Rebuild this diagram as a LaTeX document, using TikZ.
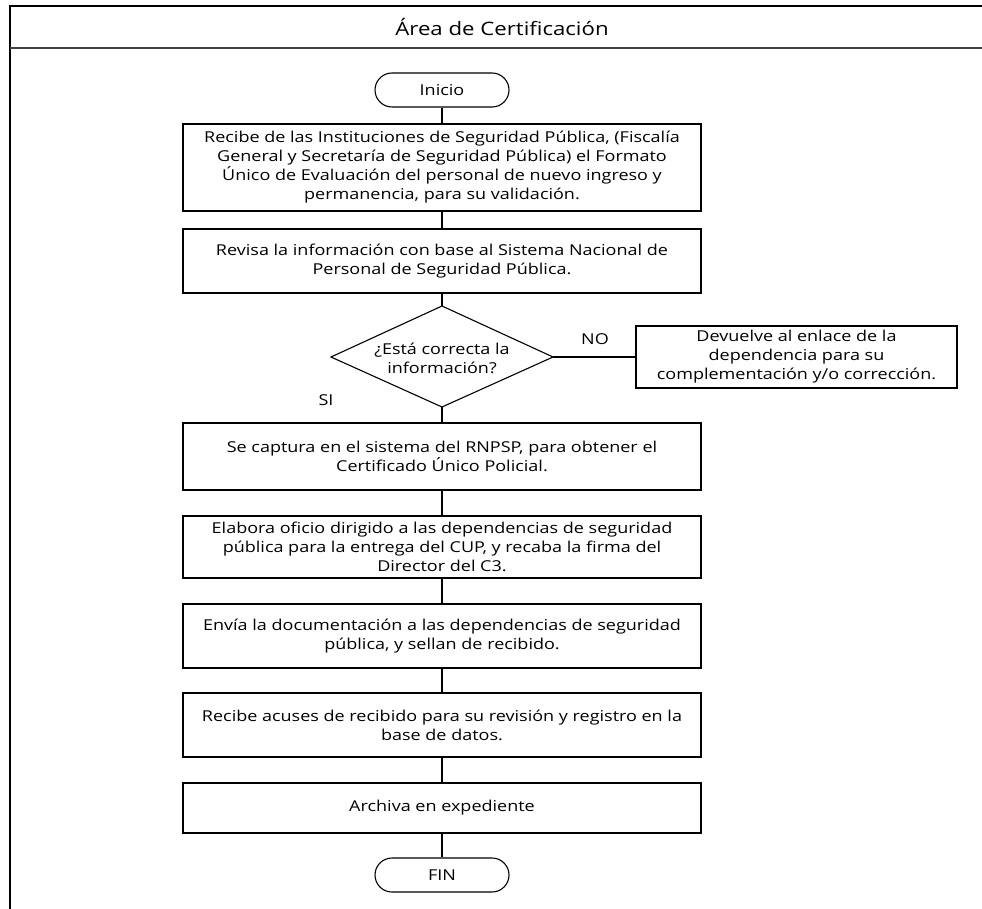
\documentclass[tikz,border=0pt]{standalone}
\usepackage{fontspec}
\setmainfont{Open Sans}[FakeStretch=1.2]
\begin{document}
\begin{tikzpicture}[x=1pt,y=-1pt,
  txt/.style={font=\fontsize{15}{19}\selectfont, align=center, inner sep=0pt},
  procbox/.style={txt, draw, line width=1.3pt, minimum width=518pt},
  pill/.style={txt, draw, line width=1.1pt, rounded corners=17pt, minimum width=134pt, minimum height=34pt},
  decline/.style={line width=1.1pt, line join=miter},
  conn/.style={line width=1.2pt},
  lbl/.style={font=\fontsize{15}{17}\selectfont, inner sep=0pt}]
\useasboundingbox (0,0) rectangle (982,909);
% frame
\coordinate (fr1) at (982,6);
\coordinate (fr2) at (10,6);
\coordinate (fr3) at (10,909);
\coordinate (tl1) at (10,48);
\coordinate (tl2) at (982,48);
\draw[line width=2pt] (fr1) -- (fr2) -- (fr3);
\draw[line width=2pt, black!75] (tl1) -- (tl2);
\node[font=\fontsize{18.5}{22}\selectfont, inner sep=0pt] (title) at (502,27) {Área de Certificación};

\node[pill] (inicio) at (442,90) {Inicio};
\node[procbox, minimum height=87pt] (b1) at (442,167.5) {Recibe de las Instituciones de Seguridad Pública, (Fiscalía\\General y Secretaría de Seguridad Pública) el Formato\\Único de Evaluación del personal de nuevo ingreso y\\permanencia, para su validación.};
\node[procbox, minimum height=64pt] (b2) at (442,261) {Revisa la información con base al Sistema Nacional de\\Personal de Seguridad Pública.};
% decision diamond
\coordinate (decN) at (442,306);
\coordinate (decE) at (553,357);
\coordinate (decS) at (442,407);
\coordinate (decW) at (331,357);
\draw[decline] (decN) -- (decE) -- (decS) -- (decW) -- cycle;
\node[txt] (dectxt) at (442,358) {¿Está correcta la\\información?};
\node[txt, draw, line width=1.3pt, minimum width=321pt, minimum height=62pt] (dev) at (796.5,357) {Devuelve al enlace de la\\dependencia para su\\complementación y/o corrección.};
\node[procbox, minimum height=67pt] (b3) at (442,456.5) {Se captura en el sistema del RNPSP, para obtener el\\Certificado Único Policial.};
\node[procbox, minimum height=62pt] (b4) at (442,547) {Elabora oficio dirigido a las dependencias de seguridad\\pública para la entrega del CUP, y recaba la firma del\\Director del C3.};
\node[procbox, minimum height=64pt] (b5) at (442,636) {Envía la documentación a las dependencias de seguridad\\pública, y sellan de recibido.};
\node[procbox, minimum height=64pt] (b6) at (442,725) {Recibe acuses de recibido para su revisión y registro en la\\base de datos.};
\node[procbox, minimum height=50pt] (b7) at (442,808) {Archiva en expediente};
\node[pill] (fin) at (442,875) {FIN};

\node[lbl] (no) at (595,339) {NO};
\node[lbl] (si) at (326,400) {SI};

\draw[conn] (inicio) -- (b1);
\draw[conn] (b1) -- (b2);
\draw[conn] (b2) -- (decN);
\draw[conn] (decE) -- (dev.west);
\draw[conn] (decS) -- (b3);
\draw[conn] (b3) -- (b4);
\draw[conn] (b4) -- (b5);
\draw[conn] (b5) -- (b6);
\draw[conn] (b6) -- (b7);
\draw[conn] (b7) -- (fin);
\end{tikzpicture}
\end{document}
